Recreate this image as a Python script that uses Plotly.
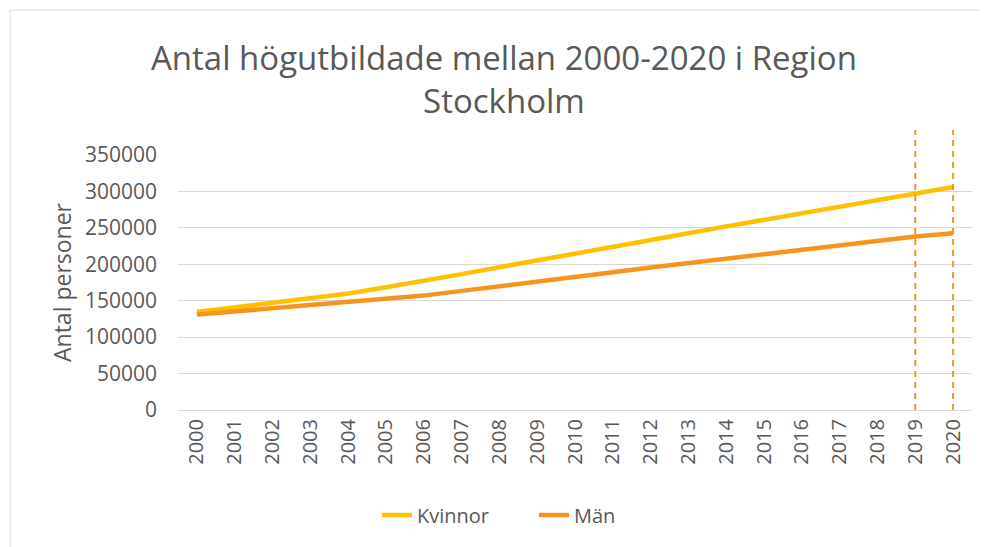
import plotly.graph_objects as go

years = list(range(2000, 2021))
kvinnor = [134500, 141000, 147000, 153000, 160000, 168500, 177000, 186500, 196000, 205000,
           214500, 224000, 233000, 242500, 252000, 261000, 270500, 279500, 288500, 297500, 306000]
man = [131000, 135500, 139500, 143500, 147500, 152000, 157000, 163500, 169500, 176000,
       182500, 189000, 195500, 201500, 207500, 213500, 219000, 225000, 232500, 238000, 242500]
y_ticks = [0, 50000, 100000, 150000, 200000, 250000, 300000, 350000]
marked_years = [2019, 2020]

title_text = "Antal högutbildade mellan 2000-2020 i Region<br>Stockholm"
grey = "#595959"
FONT = "Open Sans, sans-serif"

fig = go.Figure()
fig.add_trace(go.Scatter(x=years, y=kvinnor, mode="lines", name="Kvinnor",
                         line=dict(color="#FFC000", width=4.5)))
fig.add_trace(go.Scatter(x=years, y=man, mode="lines", name="Män",
                         line=dict(color="#F7941D", width=4.5)))

OFF = 8  # page body margin
W, H = 988, 547
# desired page-pixel positions of plot area
PL, PR, PT, PB = 178, 972, 155, 410
L, T = PL - OFF, PT - OFF
R, B = W - (PR - OFF), H - (PB - OFF)
pw, ph = PR - PL, PB - PT

def px_x(px):
    return (px - PL) / pw

def px_y(py):
    return (PB - py) / ph

shapes = []
for yr in marked_years:
    shapes.append(dict(type="line", xref="x", yref="paper", x0=yr, x1=yr,
                       y0=0, y1=px_y(130),
                       line=dict(color="#F7941D", width=2, dash="6px,5px")))
# outer chart border
shapes.append(dict(type="rect", xref="paper", yref="paper",
                   x0=px_x(10), x1=px_x(1000),
                   y0=px_y(570), y1=px_y(10),
                   line=dict(color="#D9D9D9", width=1), fillcolor="rgba(0,0,0,0)",
                   layer="below"))

fig.update_layout(
    width=W, height=H,
    margin=dict(l=L, r=R, t=T, b=B, autoexpand=False),
    paper_bgcolor="white", plot_bgcolor="white",
    font=dict(family=FONT, color=grey),
    showlegend=True,
    legend=dict(orientation="h", x=px_x(534), xanchor="center",
                y=px_y(515), yanchor="middle", entrywidth=112,
                font=dict(size=20, color=grey, family=FONT)),
    shapes=shapes,
    annotations=[dict(text=title_text, xref="paper", yref="paper",
                      x=px_x(504), y=px_y(79), xanchor="center", yanchor="middle",
                      showarrow=False,
                      font=dict(size=33, color=grey, family=FONT))],
)

fig.update_xaxes(range=[1999.5, 2020.5], tickmode="array", tickvals=years,
                 ticktext=[str(y) for y in years], tickangle=-90,
                 showgrid=False, zeroline=False, showline=False, automargin=False,
                 tickfont=dict(size=20, color=grey, family=FONT), ticks="",
                 ticklabelstandoff=4)
fig.update_yaxes(range=[0, 350000], tickmode="array", tickvals=y_ticks,
                 ticktext=[str(v) for v in y_ticks],
                 showgrid=True, gridcolor="#D9D9D9", gridwidth=1,
                 zeroline=True, zerolinecolor="#D9D9D9", zerolinewidth=1,
                 showline=False, ticks="", ticklabelstandoff=20, automargin=False,
                 tickfont=dict(size=21, color=grey, family=FONT),
                 title=dict(text="Antal personer", font=dict(size=23, color=grey, family=FONT),
                            standoff=6))

fig.write_html("out.html")
